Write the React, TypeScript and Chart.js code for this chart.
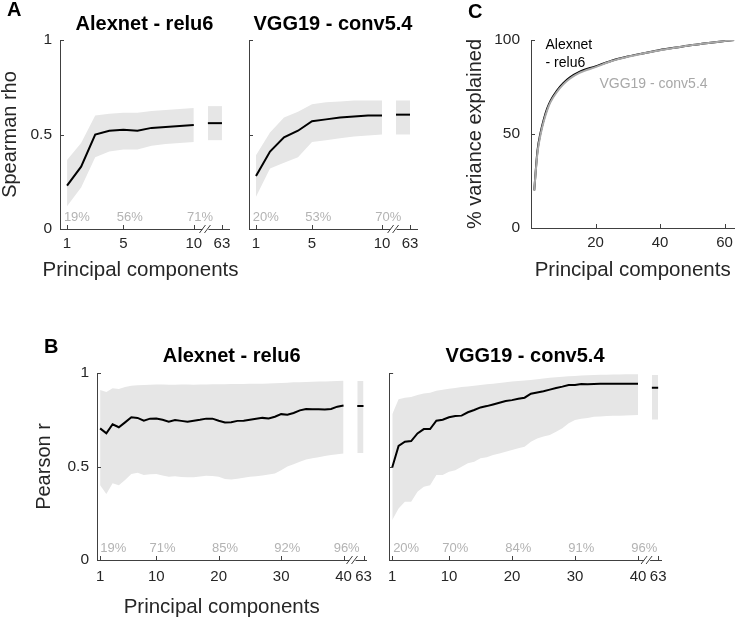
import React, { useEffect, useRef } from 'react';
import { Chart, registerables } from 'chart.js';

Chart.register(...registerables);

const FONT = '"Liberation Sans", Arial, Helvetica, sans-serif';
const BAND = '#e6e6e6';
const AXIS = '#404040';
const TEXT = '#262626';
const PCT_GRAY = '#b3b3b3';
const VGG_GRAY = '#a8a8a8';

// ---------- Panel A : Spearman rho ----------
const aPCs = [1, 2, 3, 4, 5, 6, 7, 8, 9, 10];
const aAlexMean = [0.23, 0.33, 0.5, 0.52, 0.525, 0.52, 0.535, 0.54, 0.545, 0.55];
const aAlexUpper = [0.365, 0.455, 0.6, 0.61, 0.615, 0.615, 0.625, 0.63, 0.635, 0.64];
const aAlexLower = [0.12, 0.22, 0.38, 0.41, 0.42, 0.42, 0.44, 0.45, 0.455, 0.46];
const aAlex63 = [0.56, 0.65, 0.47]; // mean, upper, lower at PC 63
const aVggMean = [0.28, 0.41, 0.485, 0.52, 0.57, 0.58, 0.59, 0.595, 0.6, 0.6];
const aVggUpper = [0.39, 0.51, 0.59, 0.62, 0.66, 0.67, 0.675, 0.68, 0.68, 0.68];
const aVggLower = [0.17, 0.32, 0.35, 0.38, 0.46, 0.47, 0.48, 0.49, 0.495, 0.5];
const aVgg63 = [0.605, 0.68, 0.5];
const aSlot63 = [11, 12];
const aBreak = 10.9;
const aXTicks = [1, 5, 10, 12];
const aXTickLabels = ['1', '5', '10', '63'];
const aYTicks = [0, 0.5, 1];
const aPctPos = [1.7, 5.45, 10.45];
const aAlexPct = ['19%', '56%', '71%'];
const aVggPct = ['20%', '53%', '70%'];

// ---------- Panel B : Pearson r ----------
const bPCs = Array.from({ length: 40 }, (_, i) => i + 1);
const bAlexMean = [0.704, 0.677, 0.726, 0.71, 0.736, 0.763, 0.76, 0.745, 0.756, 0.757, 0.75, 0.74, 0.748, 0.744, 0.74, 0.745, 0.75, 0.756, 0.756, 0.745, 0.735, 0.737, 0.744, 0.745, 0.75, 0.755, 0.76, 0.757, 0.766, 0.78, 0.777, 0.786, 0.8, 0.808, 0.806, 0.806, 0.805, 0.808, 0.82, 0.826];
const bAlexUpper = [0.909, 0.898, 0.918, 0.915, 0.925, 0.932, 0.935, 0.936, 0.937, 0.938, 0.938, 0.937, 0.937, 0.938, 0.938, 0.937, 0.938, 0.939, 0.94, 0.94, 0.94, 0.941, 0.941, 0.941, 0.942, 0.943, 0.943, 0.944, 0.945, 0.947, 0.948, 0.95, 0.951, 0.952, 0.953, 0.954, 0.955, 0.956, 0.957, 0.959];
const bAlexLower = [0.4, 0.353, 0.41, 0.4, 0.428, 0.46, 0.467, 0.455, 0.458, 0.46, 0.452, 0.445, 0.448, 0.444, 0.442, 0.443, 0.447, 0.45, 0.449, 0.445, 0.433, 0.43, 0.435, 0.44, 0.445, 0.448, 0.452, 0.457, 0.462, 0.48, 0.5, 0.512, 0.526, 0.537, 0.544, 0.55, 0.556, 0.561, 0.566, 0.57];
const bAlex63 = [0.823, 0.957, 0.572];
const bVggMean = [0.496, 0.61, 0.633, 0.636, 0.677, 0.7, 0.7, 0.745, 0.75, 0.763, 0.77, 0.772, 0.79, 0.802, 0.816, 0.823, 0.832, 0.841, 0.85, 0.855, 0.862, 0.868, 0.889, 0.896, 0.902, 0.911, 0.92, 0.927, 0.936, 0.936, 0.941, 0.94, 0.941, 0.942, 0.942, 0.943, 0.943, 0.943, 0.943, 0.943];
const bVggUpper = [0.78, 0.86, 0.868, 0.872, 0.882, 0.89, 0.895, 0.905, 0.91, 0.916, 0.92, 0.925, 0.928, 0.932, 0.936, 0.94, 0.943, 0.946, 0.95, 0.954, 0.957, 0.96, 0.963, 0.967, 0.971, 0.974, 0.977, 0.98, 0.982, 0.984, 0.986, 0.988, 0.989, 0.99, 0.991, 0.992, 0.992, 0.993, 0.993, 0.993];
const bVggLower = [0.214, 0.276, 0.312, 0.312, 0.365, 0.392, 0.4, 0.455, 0.455, 0.472, 0.48, 0.499, 0.517, 0.526, 0.544, 0.55, 0.561, 0.57, 0.579, 0.588, 0.597, 0.606, 0.633, 0.65, 0.66, 0.668, 0.686, 0.705, 0.731, 0.749, 0.755, 0.76, 0.766, 0.768, 0.77, 0.771, 0.772, 0.773, 0.774, 0.775];
const bVgg63 = [0.921, 0.989, 0.752];
const bSlot63 = [42.2, 43.2];
const bBreak = 41.6;
const bXTicks = [1, 10, 20, 30, 40, 43.2];
const bXTickLabels = ['1', '10', '20', '30', '40', '63'];
const bYTicks = [0, 0.5, 1];
const bAlexPctPos = [3.1, 11, 21, 31, 40.5];
const bVggPctPos = [3.2, 11, 21, 31, 41];
const bAlexPct = ['19%', '71%', '85%', '92%', '96%'];
const bVggPct = ['20%', '70%', '84%', '91%', '96%'];

// ---------- Panel C : % variance explained ----------
const cPCs = [1, 2, 3, 4, 5, 6, 8, 10, 12, 15, 20, 25, 30, 35, 40, 45, 50, 55, 60, 63];
const cAlex = [20, 41, 51, 58, 63.5, 67.5, 73, 77, 80, 83, 86, 89, 91.2, 93, 94.7, 96, 97.3, 98.4, 99.4, 100];
const cVgg = [20, 40, 50, 57, 62.6, 66.8, 72.3, 76.4, 79.4, 82.5, 85.6, 88.8, 91.1, 92.9, 94.6, 96, 97.3, 98.4, 99.4, 100];
const cXTicks = [20, 40, 60];
const cYTicks = [0, 50, 100];

type Txt = { text: string; x: number; y: number; color: string; size: number; align: CanvasTextAlign };

interface Spec {
  box: [number, number, number, number];
  yAxisW: number;
  xAxisH: number;
  padRight: number;
  padTop: number;
  title?: string;
  titlePad?: [number, number];
  xMin: number;
  xMax: number;
  xTicks: number[];
  xTickLabels: string[];
  xTickPad: number;
  yMax: number;
  yTicks: number[];
  showYLabels: boolean;
  yTickPad: number;
  yTitle?: string;
  yTitlePad?: number;
  yTitleLH?: number;
  xTitle?: string;
  xTitlePad?: number;
  xLabel?: { text: string; dx: number; dy: number };
  datasets: any[];
  breakAt?: number;
  pctPos?: number[];
  pctText?: string[];
  pctY?: number;
  texts?: Txt[];
}

function bandSets(pcs: number[], mean: number[], upper: number[], lower: number[], last: number[], slot: number[]) {
  const pts = (ys: number[]) => pcs.map((x, i) => ({ x, y: ys[i] }));
  const sl = (y: number) => slot.map((x) => ({ x, y }));
  const lineStyle = { borderColor: '#000', borderWidth: 2, pointRadius: 0, fill: false, tension: 0, order: 0 };
  const bandUp = { borderColor: 'rgba(0,0,0,0)', borderWidth: 0, backgroundColor: BAND, pointRadius: 0, fill: '+1', tension: 0, order: 2 };
  const bandLo = { borderColor: 'rgba(0,0,0,0)', borderWidth: 0, pointRadius: 0, fill: false, tension: 0, order: 2 };
  return [
    { ...lineStyle, data: pts(mean) },
    { ...bandUp, data: pts(upper) },
    { ...bandLo, data: pts(lower) },
    { ...lineStyle, data: sl(last[0]) },
    { ...bandUp, data: sl(last[1]) },
    { ...bandLo, data: sl(last[2]) },
  ];
}

function makeDecor(s: Spec) {
  return {
    id: 'decor',
    afterDraw(chart: any) {
      const { ctx, chartArea: ca, scales } = chart;
      const xs = scales.x;
      const ys = scales.y;
      ctx.save();
      ctx.strokeStyle = AXIS;
      ctx.lineWidth = 1;
      ctx.beginPath();
      for (const v of s.xTicks) {
        const px = Math.round(xs.getPixelForValue(v)) + 0.5;
        ctx.moveTo(px, ca.bottom);
        ctx.lineTo(px, ca.bottom - 4);
      }
      for (const v of s.yTicks) {
        const py = Math.round(ys.getPixelForValue(v)) + 0.5;
        ctx.moveTo(ca.left, py);
        ctx.lineTo(ca.left + 4, py);
      }
      ctx.stroke();
      if (s.breakAt !== undefined) {
        const bx = xs.getPixelForValue(s.breakAt);
        const by = ca.bottom;
        ctx.fillStyle = '#fff';
        ctx.fillRect(bx - 4, by - 2, 6, 4);
        ctx.beginPath();
        ctx.moveTo(bx - 7, by + 4);
        ctx.lineTo(bx - 1, by - 4);
        ctx.moveTo(bx - 2, by + 4);
        ctx.lineTo(bx + 4, by - 4);
        ctx.stroke();
      }
      if (s.pctPos && s.pctText) {
        ctx.font = `13px ${FONT}`;
        ctx.fillStyle = PCT_GRAY;
        ctx.textAlign = 'center';
        ctx.textBaseline = 'middle';
        const py = ys.getPixelForValue(s.pctY ?? 0.064);
        s.pctPos.forEach((p, i) => ctx.fillText(s.pctText![i], xs.getPixelForValue(p), py));
      }
      if (s.texts) {
        for (const t of s.texts) {
          ctx.font = `${t.size}px ${FONT}`;
          ctx.fillStyle = t.color;
          ctx.textAlign = t.align;
          ctx.textBaseline = 'middle';
          ctx.fillText(t.text, xs.getPixelForValue(t.x), ys.getPixelForValue(t.y));
        }
      }
      if (s.xLabel) {
        ctx.font = `20.5px ${FONT}`;
        ctx.fillStyle = TEXT;
        ctx.textAlign = 'center';
        ctx.textBaseline = 'middle';
        ctx.fillText(s.xLabel.text, (ca.left + ca.right) / 2 + s.xLabel.dx, ca.bottom + s.xLabel.dy);
      }
      ctx.restore();
    },
  };
}

function buildConfig(s: Spec): any {
  return {
    type: 'line',
    data: { datasets: s.datasets },
    options: {
      responsive: false,
      animation: false,
      events: [],
      layout: { padding: { left: 0, right: s.padRight, top: s.padTop, bottom: 0 } },
      plugins: {
        legend: { display: false },
        tooltip: { enabled: false },
        title: s.title
          ? {
              display: true,
              text: s.title,
              fullSize: false,
              color: '#000',
              font: { family: FONT, size: 20, weight: 'bold', lineHeight: 1.2 },
              padding: { top: s.titlePad![0], bottom: s.titlePad![1] },
            }
          : { display: false },
      },
      scales: {
        x: {
          type: 'linear',
          position: 'bottom',
          min: s.xMin,
          max: s.xMax,
          afterBuildTicks: (axis: any) => {
            axis.ticks = s.xTicks.map((v) => ({ value: v }));
          },
          afterFit: (axis: any) => {
            axis.height = s.xAxisH;
          },
          grid: { display: false, drawTicks: false },
          border: { display: true, color: AXIS, width: 1 },
          ticks: {
            autoSkip: false,
            maxRotation: 0,
            minRotation: 0,
            padding: s.xTickPad,
            color: TEXT,
            font: { family: FONT, size: 15 },
            callback: (_v: any, i: number) => s.xTickLabels[i],
          },
          title: s.xTitle
            ? { display: true, text: s.xTitle, color: TEXT, font: { family: FONT, size: 20.5, lineHeight: 1.2 }, padding: { top: 0, bottom: s.xTitlePad } }
            : { display: false },
        },
        y: {
          type: 'linear',
          position: 'left',
          min: 0,
          max: s.yMax,
          afterBuildTicks: (axis: any) => {
            axis.ticks = s.yTicks.map((v) => ({ value: v }));
          },
          afterFit: (axis: any) => {
            axis.width = s.yAxisW;
          },
          grid: { display: false, drawTicks: false },
          border: { display: true, color: AXIS, width: 1 },
          ticks: {
            display: s.showYLabels,
            padding: s.yTickPad,
            color: TEXT,
            font: { family: FONT, size: 15.5 },
            callback: (v: any) => String(v),
          },
          title: s.yTitle
            ? { display: true, text: s.yTitle, color: TEXT, font: { family: FONT, size: 20, lineHeight: s.yTitleLH ?? 1.2 }, padding: { top: s.yTitlePad, bottom: 0 } }
            : { display: false },
        },
      },
    },
    plugins: [makeDecor(s)],
  };
}

const specs: Spec[] = [
  {
    box: [0, 0, 240, 290], yAxisW: 60, xAxisH: 61, padRight: 11, padTop: 0,
    title: 'Alexnet - relu6', titlePad: [12.5, 3.5],
    xMin: 0.5, xMax: 12.5, xTicks: aXTicks, xTickLabels: aXTickLabels, xTickPad: 6,
    yMax: 1, yTicks: aYTicks, showYLabels: true, yTickPad: 8,
    yTitle: 'Spearman rho', yTitlePad: 0, yTitleLH: 1,
    xLabel: { text: 'Principal components', dx: -4, dy: 41 },
    datasets: bandSets(aPCs, aAlexMean, aAlexUpper, aAlexLower, aAlex63, aSlot63),
    breakAt: aBreak, pctPos: aPctPos, pctText: aAlexPct, pctY: 0.063,
  },
  {
    box: [240, 0, 190, 290], yAxisW: 9, xAxisH: 61, padRight: 13, padTop: 0,
    title: 'VGG19 - conv5.4', titlePad: [12.5, 3.5],
    xMin: 0.5, xMax: 12.5, xTicks: aXTicks, xTickLabels: aXTickLabels, xTickPad: 6,
    yMax: 1, yTicks: aYTicks, showYLabels: false, yTickPad: 8,
    datasets: bandSets(aPCs, aVggMean, aVggUpper, aVggLower, aVgg63, aSlot63),
    breakAt: aBreak, pctPos: aPctPos, pctText: aVggPct, pctY: 0.063,
  },
  {
    box: [430, 0, 309, 290], yAxisW: 101, xAxisH: 62, padRight: 1, padTop: 40,
    xMin: 0, xMax: 63, xTicks: cXTicks, xTickLabels: cXTicks.map(String), xTickPad: 6,
    yMax: 100, yTicks: cYTicks, showYLabels: true, yTickPad: 11,
    yTitle: '% variance explained', yTitlePad: 33,
    xTitle: 'Principal components', xTitlePad: 7,
    datasets: [
      { data: cPCs.map((x, i) => ({ x, y: cVgg[i] })), borderColor: VGG_GRAY, borderWidth: 2, pointRadius: 0, fill: false, cubicInterpolationMode: 'monotone', order: 0 },
      { data: cPCs.map((x, i) => ({ x, y: cAlex[i] })), borderColor: '#000', borderWidth: 2, pointRadius: 0, fill: false, cubicInterpolationMode: 'monotone', order: 1 },
    ],
    texts: [
      { text: 'Alexnet', x: 4.5, y: 97.3, color: '#000', size: 14, align: 'left' },
      { text: '- relu6', x: 4.5, y: 87.8, color: '#000', size: 14, align: 'left' },
      { text: 'VGG19 - conv5.4', x: 21.2, y: 76.6, color: VGG_GRAY, size: 14, align: 'left' },
    ],
  },
  {
    box: [0, 320, 380, 298], yAxisW: 97, xAxisH: 58, padRight: 10, padTop: 0,
    title: 'Alexnet - relu6', titlePad: [24.5, 4.5],
    xMin: 0.5, xMax: 43.65, xTicks: bXTicks, xTickLabels: bXTickLabels, xTickPad: 8,
    yMax: 1, yTicks: bYTicks, showYLabels: true, yTickPad: 8,
    yTitle: 'Pearson r', yTitlePad: 32,
    xLabel: { text: 'Principal components', dx: -10, dy: 47 },
    datasets: bandSets(bPCs, bAlexMean, bAlexUpper, bAlexLower, bAlex63, bSlot63),
    breakAt: bBreak, pctPos: bAlexPctPos, pctText: bAlexPct, pctY: 0.064,
  },
  {
    box: [380, 320, 359, 298], yAxisW: 8, xAxisH: 58, padRight: 78, padTop: 0,
    title: 'VGG19 - conv5.4', titlePad: [24.5, 4.5],
    xMin: 0.5, xMax: 43.65, xTicks: bXTicks, xTickLabels: bXTickLabels, xTickPad: 8,
    yMax: 1, yTicks: bYTicks, showYLabels: false, yTickPad: 8,
    datasets: bandSets(bPCs, bVggMean, bVggUpper, bVggLower, bVgg63, bSlot63),
    breakAt: bBreak, pctPos: bVggPctPos, pctText: bVggPct, pctY: 0.064,
  },
];

function ChartPanel({ spec }: { spec: Spec }) {
  const ref = useRef<HTMLCanvasElement>(null);
  useEffect(() => {
    const chart = new Chart(ref.current as HTMLCanvasElement, buildConfig(spec));
    return () => chart.destroy();
  }, [spec]);
  const [l, t, w, h] = spec.box;
  return (
    <canvas
      ref={ref}
      width={w}
      height={h}
      style={{ position: 'absolute', left: l, top: t, width: w, height: h, display: 'block' }}
    />
  );
}

const letterStyle = (left: number, top: number): React.CSSProperties => ({
  position: 'absolute',
  left,
  top,
  font: `bold 20px ${FONT}`,
  lineHeight: '20px',
  color: '#000',
});

export default function App() {
  return (
    <div style={{ position: 'absolute', left: 0, top: 0, width: 739, height: 618, background: '#fff', overflow: 'hidden' }}>
      {specs.map((s, i) => (
        <ChartPanel key={i} spec={s} />
      ))}
      <div style={letterStyle(7, -1)}>A</div>
      <div style={letterStyle(468, 1)}>C</div>
      <div style={letterStyle(44, 336)}>B</div>
    </div>
  );
}
